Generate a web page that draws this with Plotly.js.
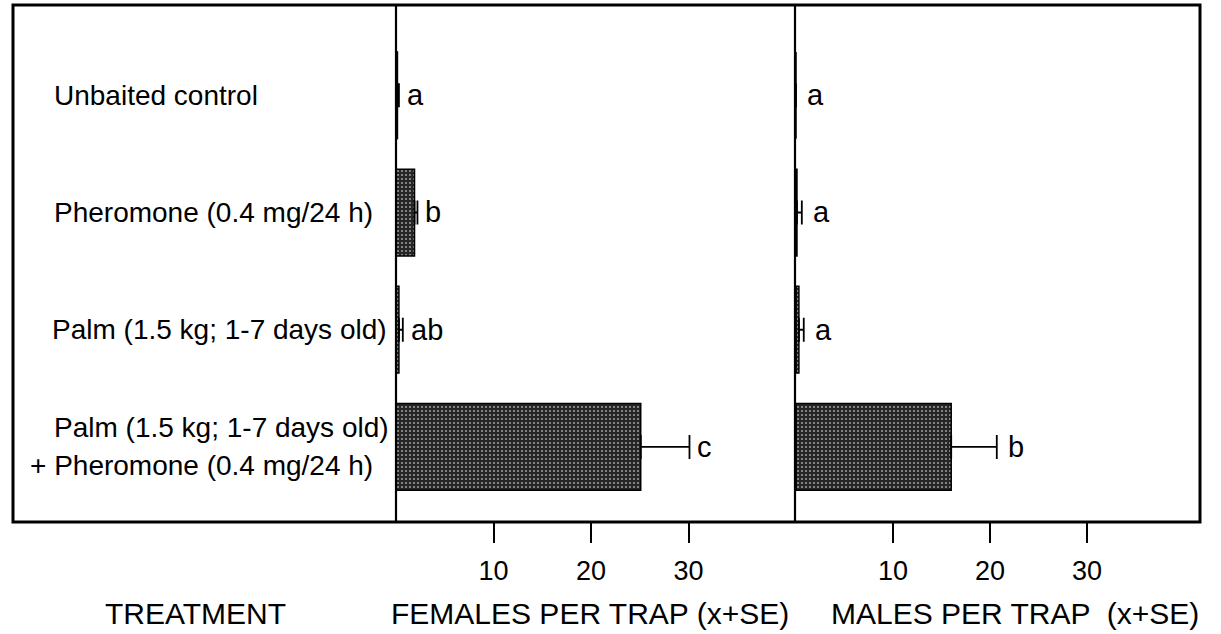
<!DOCTYPE html>
<html>
<head>
<meta charset="utf-8">
<script src="https://cdn.plot.ly/plotly-3.0.1.min.js"></script>
<style>html,body{margin:0;padding:0;background:#fff;}#chart{width:1221px;height:634px;}</style>
</head>
<body>
<div id="chart"></div>
<script>
// ---- data ----
const treatments = [
  "Unbaited control",
  "Pheromone (0.4 mg/24 h)",
  "Palm (1.5 kg; 1-7 days old)",
  "Palm (1.5 kg; 1-7 days old)<br>+ Pheromone (0.4 mg/24 h)"
];
const femaleMean = [0.15, 1.9, 0.3, 25.1];
const femaleSE = [0.15, 0.3, 0.4, 5.0];
const femaleLetters = ["a", "b", "ab", "c"];
const maleMean = [0.0, 0.1, 0.3, 16.0];
const maleSE = [0.0, 0.5, 0.5, 4.7];
const maleLetters = ["a", "a", "a", "b"];
const tickValues = [10, 20, 30];
const tickLabels = ["10", "20", "30"];
const femaleTitle = "FEMALES PER TRAP (x+SE)";
const maleTitle = "MALES PER TRAP  (x+SE)";
const treatmentTitle = "TREATMENT";

// ---- layout helpers (pixel -> paper) ----
const W = 1221, H = 634;
const px = x => x / W;
const py = y => 1 - y / H;
const FONT = "Liberation Sans, Arial, Helvetica, sans-serif";
const pos = treatments.map((_, i) => i);

const barStyle = {
  color: "#2e2e2e",
  line: {color: "#000", width: 1.5},
  pattern: {shape: ".", bgcolor: "#262626", fgcolor: "#9a9a9a", size: 4, solidity: 0.22, fillmode: "replace"}
};
const errStyle = arr => ({type: "data", array: arr, arrayminus: arr.map(() => 0), symmetric: false,
  color: "#000", thickness: 1.8, width: 12});

const traces = [
  {type: "bar", orientation: "h", x: femaleMean, y: pos, xaxis: "x", yaxis: "y",
   width: 0.74, marker: barStyle, error_x: errStyle(femaleSE), hoverinfo: "skip"},
  {type: "bar", orientation: "h", x: maleMean, y: pos, xaxis: "x2", yaxis: "y",
   width: 0.74, marker: barStyle, error_x: errStyle(maleSE), hoverinfo: "skip"}
];

const annotations = [];
// treatment labels
const lineOffsets = {1: [0], 2: [-19, 19]};
const lineLeft = [[52], [52], [50], [52, 28]];
treatments.forEach((t, i) => {
  const lines = t.split("<br>");
  lines.forEach((ln, j) => {
    annotations.push({xref: "paper", yref: "y", x: px(lineLeft[i][j]), y: i, xanchor: "left", yanchor: "middle",
      yshift: -lineOffsets[lines.length][j], text: ln, showarrow: false,
      font: {family: FONT, size: 28, color: "#000"}});
  });
});
// significance letters
femaleLetters.forEach((l, i) => annotations.push({xref: "x", yref: "y", x: femaleMean[i] + femaleSE[i], y: i,
  xanchor: "left", yanchor: "middle", xshift: 6, text: l, showarrow: false, font: {family: FONT, size: 29, color: "#000"}}));
maleLetters.forEach((l, i) => annotations.push({xref: "x2", yref: "y", x: maleMean[i] + maleSE[i], y: i,
  xanchor: "left", yanchor: "middle", xshift: 9, text: l, showarrow: false, font: {family: FONT, size: 29, color: "#000"}}));
// axis titles
const titleY = py(613);
annotations.push({xref: "paper", yref: "paper", x: px(195), y: titleY, xanchor: "center", yanchor: "middle",
  text: treatmentTitle, showarrow: false, font: {family: FONT, size: 30, color: "#000"}});
annotations.push({xref: "paper", yref: "paper", x: px(590), y: titleY, xanchor: "center", yanchor: "middle",
  text: femaleTitle, showarrow: false, font: {family: FONT, size: 30, color: "#000"}});
annotations.push({xref: "paper", yref: "paper", x: px(1015), y: titleY, xanchor: "center", yanchor: "middle",
  text: maleTitle, showarrow: false, font: {family: FONT, size: 30, color: "#000"}});

const axisCommon = {
  showgrid: false, zeroline: false, showline: false, ticks: "outside", ticklen: 20, tickwidth: 2,
  tickcolor: "#000", tickvals: tickValues, ticktext: tickLabels, ticklabelstandoff: 5,
  tickfont: {family: FONT, size: 27, color: "#000"}, fixedrange: true, anchor: "y"
};

const layout = {
  width: W, height: H, margin: {l: 0, r: 0, t: 0, b: 0}, paper_bgcolor: "#fff", plot_bgcolor: "#fff",
  showlegend: false, barmode: "overlay",
  xaxis: Object.assign({}, axisCommon, {domain: [px(396), px(795)], range: [0, (795 - 396) / 9.75]}),
  xaxis2: Object.assign({}, axisCommon, {domain: [px(796), px(1200)], range: [0, (1200 - 796) / 9.7]}),
  yaxis: {domain: [py(522), py(5)], range: [3.64, -0.77], showgrid: false, zeroline: false, showline: false,
    showticklabels: false, ticks: "", fixedrange: true},
  shapes: [
    {type: "rect", xref: "paper", yref: "paper", x0: px(13), x1: px(1200), y0: py(522), y1: py(5),
     line: {color: "#000", width: 3}},
    {type: "line", xref: "paper", yref: "paper", x0: px(396), x1: px(396), y0: py(522), y1: py(5),
     line: {color: "#000", width: 2.2}},
    {type: "line", xref: "paper", yref: "paper", x0: px(795), x1: px(795), y0: py(522), y1: py(5),
     line: {color: "#000", width: 2.2}}
  ],
  annotations: annotations
};

Plotly.newPlot("chart", traces, layout, {displayModeBar: false, staticPlot: true});
</script>
</body>
</html>
